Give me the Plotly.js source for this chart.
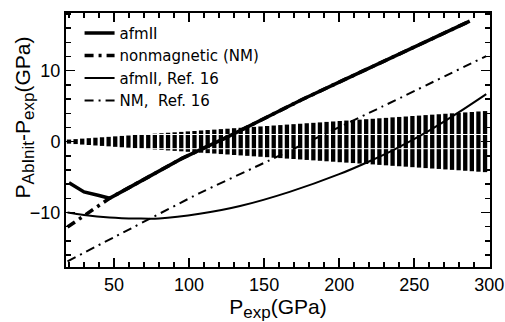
<!DOCTYPE html>
<html>
<head>
<meta charset="utf-8">
<script src="https://cdn.plot.ly/plotly-3.0.1.min.js"></script>
<style>html,body{margin:0;padding:0;background:#fff}#chart{width:505px;height:322px}</style>
</head>
<body>
<div id="chart"></div>
<script>
// Uncertainty band (experimental pressure error bars)
var bandP = [20, 24.4, 28.8, 33.2, 37.6, 42, 46.4, 50.8, 55.2, 59.6, 64, 68.4, 72.8, 77.2, 81.6, 86, 90.4, 94.8, 99.2, 103.6, 108, 112.4, 116.8, 121.2, 125.6, 130, 134.4, 138.8, 143.2, 147.6, 152, 156.4, 160.8, 165.2, 169.6, 174, 178.4, 182.8, 187.2, 191.6, 196, 200.4, 204.8, 209.2, 213.6, 218, 222.4, 226.8, 231.2, 235.6, 240, 244.4, 248.8, 253.2, 257.6, 262, 266.4, 270.8, 275.2, 279.6, 284, 288.4, 292.8, 297.2];
var bandHalf = [0.29, 0.35, 0.42, 0.48, 0.55, 0.61, 0.67, 0.74, 0.80, 0.86, 0.93, 0.99, 1.06, 1.12, 1.18, 1.25, 1.31, 1.37, 1.44, 1.50, 1.57, 1.63, 1.69, 1.76, 1.82, 1.89, 1.95, 2.01, 2.08, 2.14, 2.20, 2.27, 2.33, 2.40, 2.46, 2.52, 2.59, 2.65, 2.71, 2.78, 2.84, 2.91, 2.97, 3.03, 3.10, 3.16, 3.22, 3.29, 3.35, 3.42, 3.48, 3.54, 3.61, 3.67, 3.74, 3.80, 3.86, 3.93, 3.99, 4.05, 4.12, 4.18, 4.25, 4.31];
var bandCenter = bandP.map(function(){return 0;});
// thin white seams visible across the band
var seamP = [60, 300];
var seamUpper = [1.0, 1.0];
var seamLower = [-1.0, -1.0];

// afmII (this work)
var afmP = [20, 30, 40, 47, 60, 75, 95, 125, 150, 175, 200, 225, 250, 287];
var afmD = [-5.8, -7.1, -7.6, -8.0, -6.5, -4.8, -2.4, 0.6, 3.3, 5.9, 8.4, 10.9, 13.4, 17.0];

// nonmagnetic (this work)
var nmP = [19, 30, 47, 60, 75, 95, 125, 150, 175, 200, 225, 250, 287];
var nmD = [-12.06, -10.5, -8.0, -6.5, -4.8, -2.4, 0.6, 3.3, 5.9, 8.4, 10.9, 13.4, 17.0];

// afmII, Ref. 16
var afmRefP = [19, 30, 47, 65, 80, 107, 134, 167, 200, 221, 236, 260, 278, 298];
var afmRefD = [-10.0, -10.35, -10.7, -10.85, -10.85, -10.2, -9.1, -7.1, -4.6, -2.7, -1.2, 1.55, 3.9, 6.7];

// NM, Ref. 16
var nmRefP = [19, 50, 107, 147, 225, 298];
var nmRefD = [-16.9, -13.5, -7.27, -3.3, 4.56, 12.07];

var SUB = function(s){ return '<sub><span style="font-size:17px">' + s + '</span></sub>'; };
var xTitle = 'P' + SUB('exp') + '(GPa)';
var yTitle = 'P' + SUB('AbInit') + '-P' + SUB('exp') + '(GPa)';

var FONT = 'Liberation Sans, Arial, Helvetica, sans-serif';

var traces = [
  {x: bandP, y: bandCenter, type: 'scatter', mode: 'markers', showlegend: false, hoverinfo: 'skip',
   marker: {size: 1, opacity: 0},
   error_y: {type: 'data', array: bandHalf, visible: true, thickness: 4.3, width: 0, color: '#000'}},
  {x: seamP, y: seamUpper, type: 'scatter', mode: 'lines', showlegend: false, hoverinfo: 'skip',
   line: {color: '#fff', width: 1}},
  {x: seamP, y: seamLower, type: 'scatter', mode: 'lines', showlegend: false, hoverinfo: 'skip',
   line: {color: '#fff', width: 1}},
  {x: afmP, y: afmD, name: 'afmII', type: 'scatter', mode: 'lines',
   line: {color: '#000', width: 3.5}},
  {x: nmP, y: nmD, name: 'nonmagnetic (NM)', type: 'scatter', mode: 'lines',
   line: {color: '#000', width: 3.5, dash: '9px,5px,3px,5px'}},
  {x: afmRefP, y: afmRefD, name: 'afmII, Ref. 16', type: 'scatter', mode: 'lines',
   line: {color: '#000', width: 2, shape: 'spline', smoothing: 1}},
  {x: nmRefP, y: nmRefD, name: 'NM,  Ref. 16', type: 'scatter', mode: 'lines',
   line: {color: '#000', width: 2, dash: '9px,5px,2px,5px', shape: 'spline', smoothing: 0.4}}
];

var axisCommon = {
  showline: true, linecolor: '#000', linewidth: 2, mirror: 'allticks',
  ticks: 'inside', ticklen: 9, tickwidth: 1.5, tickcolor: '#000',
  showgrid: false, zeroline: false,
  tickfont: {family: FONT, size: 18, color: '#000'}
};

var layout = {
  width: 505, height: 322,
  margin: {l: 66, r: 15, t: 13, b: 55},
  paper_bgcolor: '#fff', plot_bgcolor: '#fff',
  font: {family: FONT, color: '#000'},
  showlegend: true,
  legend: {x: 0.032, y: 0.985, xanchor: 'left', yanchor: 'top', bgcolor: 'rgba(0,0,0,0)',
           font: {family: 'DejaVu Sans, sans-serif', size: 15, color: '#000'}, traceorder: 'normal'},
  xaxis: Object.assign({}, axisCommon, {
    range: [18, 300.5], tick0: 0, dtick: 50,
    minor: {ticks: 'inside', ticklen: 5, tickwidth: 1.5, tickcolor: '#000', dtick: 10, showgrid: false},
    title: {text: xTitle, font: {family: FONT, size: 21, color: '#000'}, standoff: 7}
  }),
  yaxis: Object.assign({}, axisCommon, {
    range: [-17.7, 18.15], tick0: 0, dtick: 10,
    minor: {ticks: 'inside', ticklen: 5, tickwidth: 1.5, tickcolor: '#000', dtick: 2, showgrid: false}
  }),
  annotations: [
    {text: yTitle, xref: 'paper', yref: 'paper', x: -0.099, y: 0.589, xanchor: 'center', yanchor: 'middle',
     textangle: -90, showarrow: false, font: {family: FONT, size: 21, color: '#000'}}
  ]
};

Plotly.newPlot('chart', traces, layout, {staticPlot: true, displayModeBar: false});
</script>
</body>
</html>
